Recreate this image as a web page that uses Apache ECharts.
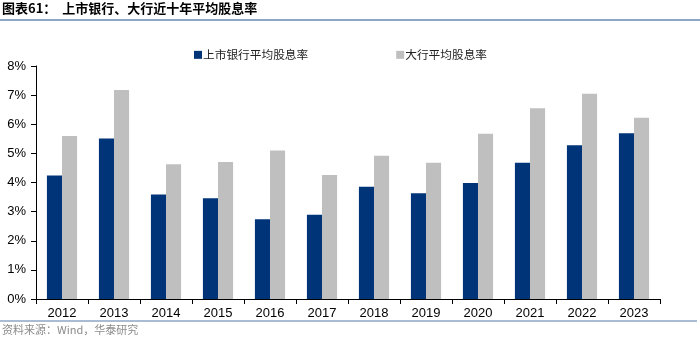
<!DOCTYPE html>
<html>
<head>
<meta charset="utf-8">
<script src="https://cdn.jsdelivr.net/npm/echarts@6/dist/echarts.min.js"></script>
<style>
  html, body { margin: 0; padding: 0; background: #fff; }
  #chart { width: 700px; height: 342px; }
</style>
</head>
<body>
<div id="chart"></div>
<script>
// Dividend yield, listed banks vs. large state-owned banks, 2012-2023 (%)
const years = ['2012','2013','2014','2015','2016','2017','2018','2019','2020','2021','2022','2023'];
const listedBanks = [4.24, 5.51, 3.59, 3.46, 2.74, 2.89, 3.85, 3.63, 3.98, 4.68, 5.28, 5.69];
const bigBanks    = [5.60, 7.18, 4.63, 4.70, 5.10, 4.26, 4.92, 4.68, 5.67, 6.55, 7.05, 6.22];
const seriesNames = ['上市银行平均股息率', '大行平均股息率'];
const yTicks = { min: 0, max: 8, interval: 1 };

const titleText = '图表61：  上市银行、大行近十年平均股息率';
const sourceText = '资料来源：Wind，华泰研究';

const chart = echarts.init(document.getElementById('chart'), null, { renderer: 'canvas' });

chart.setOption({
  animation: false,
  backgroundColor: '#ffffff',
  textStyle: { fontFamily: 'Liberation Sans, Arial, sans-serif' },
  graphic: [
    {
      type: 'text', left: 2, top: 2,
      style: { text: titleText, font: 'bold 13px "Noto Sans CJK SC", sans-serif', fill: '#000' }
    },
    {
      type: 'line', shape: { x1: 0, y1: 20, x2: 700, y2: 20 },
      style: { stroke: '#8ea6c6', lineWidth: 2 }
    },
    {
      type: 'line', shape: { x1: 0, y1: 321, x2: 697, y2: 321 },
      style: { stroke: '#8ea6c6', lineWidth: 1.5 }
    },
    {
      type: 'text', left: 2, top: 324,
      style: { text: sourceText, font: '11px "Noto Sans CJK SC", sans-serif', fill: '#8c8c8c' }
    }
  ],
  legend: {
    left: 189, top: 44,
    itemWidth: 8, itemHeight: 8, itemGap: 88,
    icon: 'rect',
    textStyle: { fontFamily: '"Noto Sans CJK SC", sans-serif', fontSize: 11.7, color: '#222', padding: [0, 0, 0, -4] },
    data: seriesNames
  },
  grid: { left: 36, right: 40, top: 66, bottom: 43, containLabel: false },
  xAxis: {
    type: 'category',
    data: years,
    axisLine: { lineStyle: { color: '#000', width: 1 } },
    axisTick: { show: true, alignWithLabel: false, length: 5, lineStyle: { color: '#000' } },
    axisLabel: { color: '#000', fontSize: 13, margin: 8, interval: 0 }
  },
  yAxis: {
    type: 'value',
    min: yTicks.min, max: yTicks.max, interval: yTicks.interval,
    axisLine: { show: true, lineStyle: { color: '#000', width: 1 } },
    axisTick: { show: true, length: 5, lineStyle: { color: '#000' } },
    splitLine: { show: false },
    axisLabel: { color: '#000', fontSize: 13, margin: 10, formatter: v => v + '%' }
  },
  series: [
    {
      name: seriesNames[0], type: 'bar', data: listedBanks,
      itemStyle: { color: '#003478' },
      barGap: '0%', barCategoryGap: '42%'
    },
    {
      name: seriesNames[1], type: 'bar', data: bigBanks,
      itemStyle: { color: '#bfbfbf' },
      barGap: '0%', barCategoryGap: '42%'
    }
  ]
});
</script>
</body>
</html>
